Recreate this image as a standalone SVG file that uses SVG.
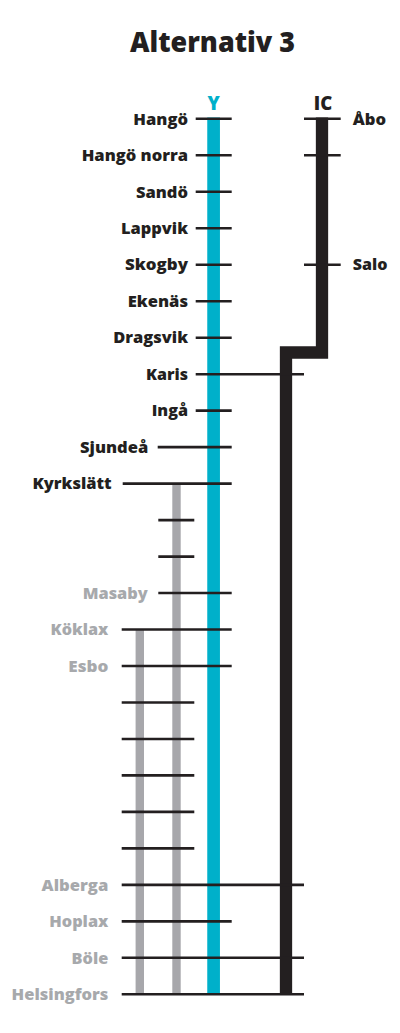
<svg xmlns="http://www.w3.org/2000/svg" width="400" height="1033" viewBox="0 0 400 1033">
<style>
.bg{fill:#ffffff}
.title{font-family:"Open Sans","Liberation Sans",sans-serif;font-weight:800;font-size:28px;fill:#231f20;text-anchor:middle}
.line-lbl{font-family:"Open Sans","Liberation Sans",sans-serif;font-weight:800;font-size:18.5px;text-anchor:middle}
.lbl{font-family:"Open Sans","Liberation Sans",sans-serif;font-weight:800;font-size:16px;fill:#231f20;text-anchor:end}
.lbl-l{font-family:"Open Sans","Liberation Sans",sans-serif;font-weight:800;font-size:16px;fill:#231f20;text-anchor:start}
.gray{fill:#a7a9ac}
.tick{stroke:#231f20;stroke-width:2.6;fill:none}
.y{stroke:#00b0ca;stroke-width:12.7;fill:none}
.ic{stroke:#231f20;stroke-width:12.3;fill:none;stroke-linejoin:miter}
.g{stroke:#a7a7ab;stroke-width:8.4;fill:none}
</style>
<rect class="bg" x="0" y="0" width="400" height="1033"/>
<text class="title" x="212.5" y="51.7" textLength="165" lengthAdjust="spacingAndGlyphs">Alternativ 3</text>
<text class="line-lbl" x="213.6" y="110" fill="#00b0ca">Y</text>
<text class="line-lbl" x="323" y="110" fill="#231f20">IC</text>
<g id="connectors">
<line class="g" x1="139.8" y1="629.5" x2="139.8" y2="995"/>
<line class="g" x1="176.5" y1="483.6" x2="176.5" y2="995"/>
<line class="y" x1="213.6" y1="117.5" x2="213.6" y2="995"/>
<path class="ic" d="M322,117.5 V352.5 H286 V995"/>
</g>
<g id="st-hango"><line class="tick" x1="195.7" y1="118.8" x2="231.7" y2="118.8"/><text class="lbl" x="188" y="124.5" textLength="54.7" lengthAdjust="spacingAndGlyphs">Hangö</text></g>
<g id="st-abo"><line class="tick" x1="304" y1="118.8" x2="340.7" y2="118.8"/><text class="lbl-l" x="352.7" y="124.5" textLength="33.3" lengthAdjust="spacingAndGlyphs">Åbo</text></g>
<g id="st-hango-norra"><line class="tick" x1="195.7" y1="155.3" x2="231.7" y2="155.3"/><line class="tick" x1="304" y1="155.3" x2="340.7" y2="155.3"/><text class="lbl" x="188" y="161" textLength="106.3" lengthAdjust="spacingAndGlyphs">Hangö norra</text></g>
<g id="st-sando"><line class="tick" x1="195.7" y1="191.8" x2="231.7" y2="191.8"/><text class="lbl" x="188" y="197.5" textLength="52" lengthAdjust="spacingAndGlyphs">Sandö</text></g>
<g id="st-lappvik"><line class="tick" x1="195.7" y1="228.2" x2="231.7" y2="228.2"/><text class="lbl" x="188" y="233.9" textLength="67" lengthAdjust="spacingAndGlyphs">Lappvik</text></g>
<g id="st-skogby"><line class="tick" x1="195.7" y1="264.7" x2="231.7" y2="264.7"/><text class="lbl" x="188" y="270.4" textLength="63" lengthAdjust="spacingAndGlyphs">Skogby</text></g>
<g id="st-salo"><line class="tick" x1="304" y1="264.7" x2="340.7" y2="264.7"/><text class="lbl-l" x="352.7" y="270.4" textLength="34.7" lengthAdjust="spacingAndGlyphs">Salo</text></g>
<g id="st-ekenas"><line class="tick" x1="195.7" y1="301.2" x2="231.7" y2="301.2"/><text class="lbl" x="188" y="306.9" textLength="60.3" lengthAdjust="spacingAndGlyphs">Ekenäs</text></g>
<g id="st-dragsvik"><line class="tick" x1="195.7" y1="337.7" x2="231.7" y2="337.7"/><text class="lbl" x="188" y="343.4" textLength="74.7" lengthAdjust="spacingAndGlyphs">Dragsvik</text></g>
<g id="st-karis"><line class="tick" x1="195.7" y1="374.2" x2="304" y2="374.2"/><text class="lbl" x="188" y="379.9" textLength="42" lengthAdjust="spacingAndGlyphs">Karis</text></g>
<g id="st-inga"><line class="tick" x1="195.7" y1="410.6" x2="231.7" y2="410.6"/><text class="lbl" x="188" y="416.3" textLength="36.3" lengthAdjust="spacingAndGlyphs">Ingå</text></g>
<g id="st-sjundea"><line class="tick" x1="157.7" y1="447.1" x2="231.7" y2="447.1"/><text class="lbl" x="148.3" y="452.8" textLength="68.3" lengthAdjust="spacingAndGlyphs">Sjundeå</text></g>
<g id="st-kyrkslatt"><line class="tick" x1="122.7" y1="483.6" x2="231.7" y2="483.6"/><text class="lbl" x="111.7" y="489.3" textLength="79.3" lengthAdjust="spacingAndGlyphs">Kyrkslätt</text></g>
<g id="st-11"><line class="tick" x1="158.3" y1="520.1" x2="194.3" y2="520.1"/></g>
<g id="st-12"><line class="tick" x1="158.3" y1="556.6" x2="194.3" y2="556.6"/></g>
<g id="st-masaby"><line class="tick" x1="158.3" y1="593" x2="231.7" y2="593"/><text class="lbl gray" x="147.7" y="598.7" textLength="65" lengthAdjust="spacingAndGlyphs">Masaby</text></g>
<g id="st-koklax"><line class="tick" x1="121.7" y1="629.5" x2="231.7" y2="629.5"/><text class="lbl gray" x="108.3" y="635.2" textLength="57.7" lengthAdjust="spacingAndGlyphs">Köklax</text></g>
<g id="st-esbo"><line class="tick" x1="121.7" y1="666" x2="231.7" y2="666"/><text class="lbl gray" x="108.3" y="671.7" textLength="40" lengthAdjust="spacingAndGlyphs">Esbo</text></g>
<g id="st-16"><line class="tick" x1="121.7" y1="702.5" x2="194.3" y2="702.5"/></g>
<g id="st-17"><line class="tick" x1="121.7" y1="739" x2="194.3" y2="739"/></g>
<g id="st-18"><line class="tick" x1="121.7" y1="775.4" x2="194.3" y2="775.4"/></g>
<g id="st-19"><line class="tick" x1="121.7" y1="811.9" x2="194.3" y2="811.9"/></g>
<g id="st-20"><line class="tick" x1="121.7" y1="848.4" x2="194.3" y2="848.4"/></g>
<g id="st-alberga"><line class="tick" x1="121.7" y1="884.9" x2="304" y2="884.9"/><text class="lbl gray" x="108.3" y="890.6" textLength="66.7" lengthAdjust="spacingAndGlyphs">Alberga</text></g>
<g id="st-hoplax"><line class="tick" x1="121.7" y1="921.4" x2="231.7" y2="921.4"/><text class="lbl gray" x="108.3" y="927.1" textLength="59" lengthAdjust="spacingAndGlyphs">Hoplax</text></g>
<g id="st-bole"><line class="tick" x1="121.7" y1="957.8" x2="304" y2="957.8"/><text class="lbl gray" x="108.3" y="963.5" textLength="36.7" lengthAdjust="spacingAndGlyphs">Böle</text></g>
<g id="st-helsingfors"><line class="tick" x1="121.7" y1="994.3" x2="304" y2="994.3"/><text class="lbl gray" x="108.3" y="1000" textLength="96.7" lengthAdjust="spacingAndGlyphs">Helsingfors</text></g>
</svg>
